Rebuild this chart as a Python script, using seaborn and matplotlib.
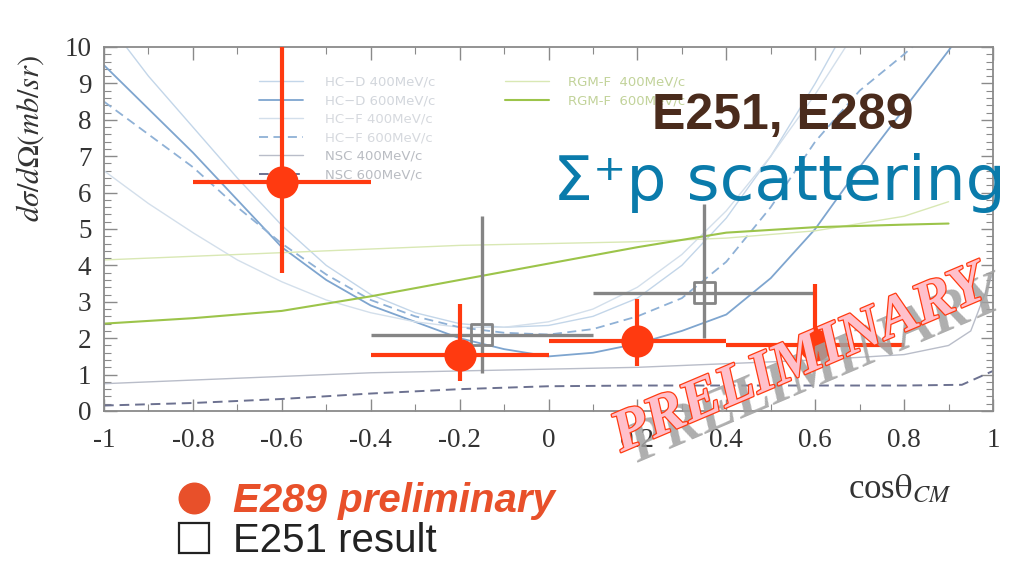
import matplotlib
matplotlib.use("Agg")
import matplotlib.pyplot as plt
import matplotlib.patheffects as pe
from matplotlib.lines import Line2D
from matplotlib.ticker import FixedLocator, MultipleLocator
import seaborn as sns

# ---- theory curves: dσ/dΩ (mb/sr) vs cosθ_CM ----
hcd400_x = [-1.0, -0.9, -0.8, -0.7, -0.6, -0.5, -0.4, -0.3, -0.2, -0.1, 0.0, 0.1, 0.2, 0.3, 0.4, 0.5, 0.6, 0.7]
hcd400_y = [10.8, 9.2, 7.8, 6.4, 5.1, 4.0, 3.2, 2.7, 2.4, 2.3, 2.35, 2.6, 3.1, 4.0, 5.3, 7.0, 9.0, 11.2]

hcd600_x = [-1.0, -0.9, -0.8, -0.7, -0.6, -0.5, -0.4, -0.3, -0.2, -0.1, 0.0, 0.1, 0.2, 0.3, 0.4, 0.5, 0.6, 0.7, 0.8, 0.9, 1.0]
hcd600_y = [9.5, 8.3, 7.1, 5.8, 4.5, 3.6, 2.9, 2.45, 2.0, 1.7, 1.5, 1.6, 1.85, 2.2, 2.65, 3.65, 5.0, 6.7, 8.3, 9.9, 11.6]

hcf400_x = [-1.0, -0.9, -0.8, -0.7, -0.6, -0.5, -0.4, -0.3, -0.2, -0.1, 0.0, 0.1, 0.2, 0.3, 0.4, 0.5, 0.6, 0.7]
hcf400_y = [6.6, 5.7, 4.9, 4.15, 3.55, 3.05, 2.7, 2.45, 2.3, 2.3, 2.45, 2.8, 3.4, 4.3, 5.5, 7.0, 8.7, 10.6]

hcf600_x = [-1.0, -0.9, -0.8, -0.7, -0.6, -0.5, -0.4, -0.3, -0.2, -0.1, 0.0, 0.1, 0.2, 0.3, 0.4, 0.5, 0.6, 0.7, 0.8, 0.9]
hcf600_y = [8.5, 7.6, 6.7, 5.6, 4.6, 3.75, 3.05, 2.6, 2.3, 2.15, 2.1, 2.25, 2.6, 3.1, 4.1, 5.6, 7.4, 8.8, 9.8, 10.9]

nsc400_x = [-1.0, -0.8, -0.6, -0.4, -0.2, 0.0, 0.2, 0.4, 0.6, 0.8, 0.9, 0.95, 1.0]
nsc400_y = [0.75, 0.85, 0.95, 1.05, 1.1, 1.15, 1.2, 1.3, 1.4, 1.55, 1.8, 2.2, 3.8]

nsc600_x = [-1.0, -0.8, -0.6, -0.4, -0.2, 0.0, 0.2, 0.4, 0.6, 0.8, 0.93, 1.0]
nsc600_y = [0.15, 0.22, 0.33, 0.48, 0.6, 0.68, 0.7, 0.7, 0.7, 0.7, 0.72, 1.1]

rgm400_x = [-1.0, -0.8, -0.6, -0.4, -0.2, 0.0, 0.2, 0.4, 0.6, 0.8, 0.9]
rgm400_y = [4.15, 4.25, 4.35, 4.45, 4.55, 4.6, 4.65, 4.75, 4.95, 5.35, 5.75]

rgm600_x = [-1.0, -0.8, -0.6, -0.4, -0.2, 0.0, 0.2, 0.4, 0.6, 0.8, 0.9]
rgm600_y = [2.4, 2.55, 2.75, 3.15, 3.6, 4.05, 4.5, 4.9, 5.05, 5.12, 5.15]

# ---- measurements ----
e289_x = [-0.6, -0.2, 0.2, 0.6]
e289_y = [6.3, 1.55, 1.92, 1.8]
e289_xerr = [0.2, 0.2, 0.2, 0.2]
e289_ylo = [2.5, 0.73, 0.69, 0.3]
e289_yhi = [4.2, 1.38, 1.15, 1.7]

e251_x = [-0.15, 0.35]
e251_y = [2.1, 3.25]
e251_xerr = [0.25, 0.25]
e251_ylo = [1.06, 1.25]
e251_yhi = [3.25, 2.45]

x_ticks = [-1, -0.8, -0.6, -0.4, -0.2, 0, 0.2, 0.4, 0.6, 0.8, 1]
x_ticklabels = ["-1", "-0.8", "-0.6", "-0.4", "-0.2", "0", "0.2", "0.4", "0.6", "0.8", "1"]
y_ticks = [0, 1, 2, 3, 4, 5, 6, 7, 8, 9, 10]
y_ticklabels = ["0", "1", "2", "3", "4", "5", "6", "7", "8", "9", "10"]

model_labels_a = ["HC\u2212D 400MeV/c", "HC\u2212D 600MeV/c", "HC\u2212F 400MeV/c",
                  "HC\u2212F 600MeV/c", "NSC 400MeV/c", "NSC 600MeV/c"]
model_labels_b = ["RGM-F  400MeV/c", "RGM-F  600MeV/c"]

sns.set_theme(style="white")
plt.rcParams["font.family"] = ["Liberation Serif", "DejaVu Serif"]
plt.rcParams["mathtext.fontset"] = "stix"

fig = plt.figure(figsize=(10.19, 5.67), dpi=100)
ax = fig.add_axes([104 / 1019, 1 - 411 / 567, (993 - 104) / 1019, (411 - 47) / 567])

curve_specs = [
    (hcd400_x, hcd400_y, "#c3d6e9", "-", 1.0),
    (hcd600_x, hcd600_y, "#7ea5cf", "-", 1.3),
    (hcf400_x, hcf400_y, "#d3dfeb", "-", 1.0),
    (hcf600_x, hcf600_y, "#8fb1d6", (0, (5, 3)), 1.3),
    (nsc400_x, nsc400_y, "#b9bdc9", "-", 1.0),
    (nsc600_x, nsc600_y, "#6c7190", (0, (5, 3)), 1.4),
    (rgm400_x, rgm400_y, "#d9e8b4", "-", 1.0),
    (rgm600_x, rgm600_y, "#9cc44a", "-", 1.5),
]
handles = []
for cx, cy, col, ls, lw in curve_specs:
    sns.lineplot(x=cx, y=cy, ax=ax, color=col, linestyle=ls, linewidth=lw,
                 sort=False, estimator=None, legend=False, zorder=2)
    handles.append(Line2D([], [], color=col, linestyle=ls, linewidth=lw))

# E251 result (open squares, grey)
ax.errorbar(e251_x, e251_y, xerr=e251_xerr, yerr=[e251_ylo, e251_yhi],
            fmt="none", ecolor="#858585", elinewidth=2.4, capsize=0, zorder=4)
sns.scatterplot(x=e251_x, y=e251_y, ax=ax, marker="s", s=230,
                facecolor="none", edgecolor="#858585", linewidth=2.0, zorder=5, legend=False)

# E289 preliminary (filled circles, red)
ax.errorbar(e289_x, e289_y, xerr=e289_xerr, yerr=[e289_ylo, e289_yhi],
            fmt="none", ecolor="#ff3a10", elinewidth=3.0, capsize=0, zorder=6)
sns.scatterplot(x=e289_x, y=e289_y, ax=ax, marker="o", s=540,
                color="#ff3a10", edgecolor="#ff3a10", linewidth=0, zorder=7, legend=False)

ax.set_xlim(-1, 1)
ax.set_ylim(0, 10)
ax.xaxis.set_major_locator(FixedLocator(x_ticks))
ax.set_xticklabels(x_ticklabels)
ax.yaxis.set_major_locator(FixedLocator(y_ticks))
ax.set_yticklabels(y_ticklabels)
ax.xaxis.set_minor_locator(MultipleLocator(0.1))
ax.yaxis.set_minor_locator(MultipleLocator(0.2))
ax.tick_params(which="both", direction="in", top=True, right=True, bottom=True, left=True,
               color="#8a8a8a", labelsize=19.5, labelcolor="#333333", pad=9)
ax.tick_params(which="major", length=9, width=1.0)
ax.tick_params(which="minor", length=5, width=0.8)
ax.tick_params(axis="x", which="major", pad=12)
for sp in ax.spines.values():
    sp.set_color("#8a8a8a")
    sp.set_linewidth(1.3)
ax.set_xlabel("")
ax.set_ylabel("")

# model legends inside the frame
leg1 = ax.legend(handles[:6], model_labels_a, loc="upper left",
                 bbox_to_anchor=((252 - 104) / 889, (411 - 69) / 364),
                 frameon=False, handlelength=3.4, handletextpad=1.6,
                 labelspacing=0.42, borderpad=0, prop={"family": "DejaVu Sans", "size": 9.5})
for t, c in zip(leg1.get_texts(), ["#d2d6dc", "#d2d6dc", "#d6d9de", "#d6d9de", "#b9bcc2", "#b9bcc2"]):
    t.set_color(c)
ax.add_artist(leg1)
leg2 = ax.legend(handles[6:], model_labels_b, loc="upper left",
                 bbox_to_anchor=((498 - 104) / 889, (411 - 69) / 364),
                 frameon=False, handlelength=3.4, handletextpad=1.4,
                 labelspacing=0.42, borderpad=0, prop={"family": "DejaVu Sans", "size": 9.5})
for t in leg2.get_texts():
    t.set_color("#c2d39a")

# axis titles
fig.text(30 / 1019, 1 - 138 / 567, r"$d\sigma/d\Omega(mb/sr)$", rotation=90,
         ha="center", va="center", fontsize=22, color="#333333")
fig.text(848 / 1019, 1 - 490 / 567, r"cos$\mathrm{\theta}_{CM}$", ha="left", va="center",
         fontsize=25, color="#333333")

# headline
fig.text(652 / 1019, 1 - 129 / 567, "E251, E289", ha="left", va="baseline",
         fontsize=36, fontweight="bold", color="#4a2b1c", family="Liberation Sans")
fig.text(553 / 1019, 1 - 200 / 567, "\u03a3\u207ap scattering", ha="left", va="baseline",
         fontsize=45.5, color="#0a7bab", family="DejaVu Sans")

# PRELIMINARY stamp with grey shadow
stamp_kw = dict(rotation=23, ha="center", va="center", rotation_mode="anchor",
                fontsize=42, family="Liberation Serif", style="italic", fontweight="bold")
fig.text(816 / 1019, 1 - 372 / 567, "PRELIMINARY", color="#a0a0a0", alpha=0.85, **stamp_kw)
fig.text(800 / 1019, 1 - 361 / 567, "PRELIMINARY", color="#ffc0cb",
         path_effects=[pe.Stroke(linewidth=1.8, foreground="#ff3a10"), pe.Normal()], **stamp_kw)

# data-set legend below the frame
ds_handles = [Line2D([], [], linestyle="none", marker="o", markersize=22, color="#e8502a"),
              Line2D([], [], linestyle="none", marker="s", markersize=21,
                     markerfacecolor="none", markeredgecolor="#222222", markeredgewidth=1.6)]
dleg = fig.legend(ds_handles, ["E289 preliminary", "E251 result"], loc="upper left",
                  bbox_to_anchor=(150 / 1019, 1 - 462 / 567), frameon=False,
                  handlelength=1.2, handletextpad=0.35, labelspacing=0.05, borderpad=0,
                  prop={"family": "Liberation Sans", "size": 29})
t0, t1 = dleg.get_texts()
t0.set_color("#e8502a")
t0.set_fontstyle("italic")
t0.set_fontweight("bold")
t1.set_color("#222222")

fig.savefig("out.png", dpi=100)
